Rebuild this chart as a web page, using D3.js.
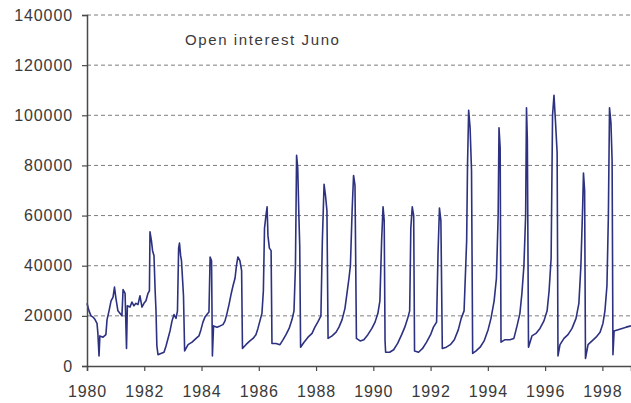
<!DOCTYPE html>
<html>
<head>
<meta charset="utf-8">
<script src="https://cdn.jsdelivr.net/npm/d3@7"></script>
<style>
  html, body { margin: 0; padding: 0; background: #ffffff; }
  svg { display: block; }
  .tick text { font-family: "Liberation Sans", Arial, sans-serif; font-size: 16px; fill: #3a3a3a; letter-spacing: 0.9px; }
</style>
</head>
<body>
<svg id="chart" width="631" height="403"></svg>
<script>
// Open interest, June contract: decimal year vs. contracts outstanding
const years = [
  1980.00, 1980.07, 1980.14, 1980.21, 1980.28, 1980.35, 1980.38, 1980.42, 1980.45, 1980.56,
  1980.66, 1980.70, 1980.77, 1980.84, 1980.91, 1980.96, 1981.01, 1981.08, 1981.15, 1981.22,
  1981.26, 1981.33, 1981.38, 1981.41, 1981.50, 1981.57, 1981.64, 1981.71, 1981.78, 1981.85,
  1981.92, 1981.99, 1982.06, 1982.13, 1982.18, 1982.20, 1982.25, 1982.29, 1982.34, 1982.38,
  1982.41, 1982.44, 1982.48, 1982.58, 1982.69, 1982.76, 1982.83, 1982.90, 1982.97, 1983.04,
  1983.11, 1983.16, 1983.20, 1983.23, 1983.27, 1983.30, 1983.33, 1983.37, 1983.41, 1983.53,
  1983.67, 1983.81, 1983.91, 1983.98, 1984.05, 1984.12, 1984.19, 1984.26, 1984.30, 1984.35,
  1984.38, 1984.42, 1984.54, 1984.65, 1984.75, 1984.82, 1984.89, 1984.96, 1985.03, 1985.10,
  1985.17, 1985.22, 1985.27, 1985.34, 1985.40, 1985.43, 1985.55, 1985.69, 1985.80, 1985.90,
  1985.97, 1986.04, 1986.11, 1986.16, 1986.20, 1986.25, 1986.29, 1986.32, 1986.37, 1986.43,
  1986.46, 1986.60, 1986.74, 1986.85, 1986.95, 1987.06, 1987.16, 1987.23, 1987.28, 1987.32,
  1987.36, 1987.40, 1987.43, 1987.46, 1987.58, 1987.72, 1987.86, 1987.96, 1988.06, 1988.17,
  1988.22, 1988.28, 1988.33, 1988.38, 1988.42, 1988.56, 1988.70, 1988.80, 1988.91, 1989.01,
  1989.08, 1989.15, 1989.20, 1989.26, 1989.31, 1989.36, 1989.41, 1989.54, 1989.67, 1989.81,
  1989.95, 1990.06, 1990.16, 1990.23, 1990.29, 1990.34, 1990.38, 1990.41, 1990.43, 1990.57,
  1990.71, 1990.85, 1990.99, 1991.10, 1991.20, 1991.27, 1991.31, 1991.36, 1991.41, 1991.44,
  1991.58, 1991.72, 1991.86, 1992.00, 1992.10, 1992.21, 1992.26, 1992.31, 1992.36, 1992.41,
  1992.55, 1992.69, 1992.83, 1992.97, 1993.07, 1993.17, 1993.26, 1993.29, 1993.33, 1993.38,
  1993.43, 1993.47, 1993.59, 1993.73, 1993.87, 1994.01, 1994.11, 1994.22, 1994.30, 1994.36,
  1994.39, 1994.43, 1994.46, 1994.60, 1994.77, 1994.91, 1995.02, 1995.12, 1995.19, 1995.26,
  1995.32, 1995.35, 1995.38, 1995.42, 1995.54, 1995.68, 1995.82, 1995.96, 1996.07, 1996.14,
  1996.21, 1996.26, 1996.31, 1996.36, 1996.42, 1996.45, 1996.52, 1996.66, 1996.80, 1996.94,
  1997.08, 1997.18, 1997.25, 1997.31, 1997.34, 1997.38, 1997.41, 1997.50, 1997.64, 1997.78,
  1997.92, 1998.02, 1998.09, 1998.16, 1998.21, 1998.25, 1998.30, 1998.34, 1998.37, 1998.41,
  1998.55, 1998.69, 1998.83, 1999.00
];

const openInterest = [
  25000, 22000, 20000, 19500, 18500, 17000, 13000, 4000, 12000, 11500,
  12500, 18500, 22000, 26000, 27500, 31500, 27000, 22000, 21000, 20000,
  30500, 29000, 7000, 24000, 23500, 25500, 24000, 25000, 24500, 28000,
  23500, 25000, 26000, 29000, 30000, 53500, 50000, 46000, 44000, 30000,
  22000, 8000, 4500, 5000, 5500, 8000, 11000, 14000, 18000, 20500,
  19000, 22000, 47000, 49000, 44000, 42000, 36000, 28000, 6000, 8500,
  9500, 11000, 12000, 14500, 17500, 19500, 20500, 21500, 43500, 42000,
  4000, 16000, 15500, 16000, 16500, 18000, 21000, 24500, 28500, 32000,
  35000, 40000, 43500, 42000, 38000, 7000, 8500, 10000, 11000, 12500,
  15000, 18000, 21000, 30000, 55000, 60000, 63500, 52000, 47000, 46000,
  9000, 9000, 8500, 10500, 12500, 15000, 18500, 22000, 40000, 84000,
  79000, 60000, 48000, 7500, 9500, 11500, 13000, 15500, 17500, 20000,
  50000, 72500, 68000, 62000, 11000, 12000, 13500, 15500, 18500, 23000,
  29000, 35000, 40000, 62000, 76000, 72000, 11000, 10000, 10500, 12500,
  15000, 17500, 21000, 26000, 50000, 63500, 58000, 10000, 5500, 5500,
  6500, 9000, 12500, 15500, 19000, 22000, 55000, 63500, 60000, 6000,
  5500, 7000, 9500, 12500, 15500, 17500, 45000, 63000, 58000, 7000,
  7500, 8500, 10500, 14500, 19000, 22000, 50000, 80000, 102000, 95000,
  78000, 5000, 6000, 7500, 10000, 14500, 19000, 26000, 35000, 60000,
  95000, 87000, 9500, 10500, 10500, 11000, 16000, 21000, 29000, 40000,
  60000, 103000, 90000, 7500, 12000, 13000, 15000, 18000, 22000, 30000,
  43000, 100000, 108000, 98000, 85000, 4000, 8500, 11000, 12500, 15000,
  19000, 25000, 40000, 63000, 77000, 70000, 3000, 8500, 10000, 11500,
  13500, 17000, 22000, 32000, 60000, 103000, 97000, 82000, 4500, 14000,
  14500, 15000, 15500, 16000
];

const yTicks = [0, 20000, 40000, 60000, 80000, 100000, 120000, 140000];
const xTickYears = [1980, 1982, 1984, 1986, 1988, 1990, 1992, 1994, 1996, 1998];
const chartTitle = "Open interest Juno";

const svg = d3.select("#chart");
const margin = { left: 87, right: 0, top: 15, bottom: 37 };
const W = 631, H = 403;

const x = d3.scaleLinear().domain([1980, 1999]).range([margin.left, W - margin.right]);
const y = d3.scaleLinear().domain([0, 140000]).range([H - margin.bottom, margin.top]);

// dashed horizontal gridlines
svg.append("g")
  .selectAll("line")
  .data(yTicks.filter(d => d > 0))
  .join("line")
  .attr("x1", x(1980)).attr("x2", x(1999))
  .attr("y1", d => y(d)).attr("y2", d => y(d))
  .attr("stroke", "#7d7d7d")
  .attr("stroke-width", 1)
  .attr("stroke-dasharray", "4,3");

// title
svg.append("text")
  .attr("x", 185).attr("y", 45)
  .attr("font-family", "Liberation Sans, Arial, sans-serif")
  .attr("font-size", 15)
  .attr("letter-spacing", "1.6px")
  .attr("fill", "#3a3a3a")
  .text(chartTitle);

// series
const pts = years.map((yr, i) => [yr, openInterest[i]]);
svg.append("path")
  .datum(pts)
  .attr("fill", "none")
  .attr("stroke", "#2c3180")
  .attr("stroke-width", 1.6)
  .attr("stroke-linejoin", "round")
  .attr("d", d3.line().x(d => x(d[0])).y(d => y(d[1])));

// axes
const yAxis = d3.axisLeft(y).tickValues(yTicks).tickSize(5).tickPadding(9)
  .tickFormat(d3.format("d"));
const xAxis = d3.axisBottom(x).tickValues(xTickYears).tickSize(5).tickPadding(15)
  .tickFormat(d3.format("d"));

const gy = svg.append("g").attr("transform", `translate(${margin.left},0)`).call(yAxis);
const gx = svg.append("g").attr("transform", `translate(0,${H - margin.bottom})`).call(xAxis);

[gx, gy].forEach(g => {
  g.selectAll(".domain").attr("stroke", "#4a4a4a").attr("stroke-width", 1.5);
  g.selectAll(".tick line").attr("stroke", "#4a4a4a").attr("stroke-width", 1.2);
});
</script>
</body>
</html>
